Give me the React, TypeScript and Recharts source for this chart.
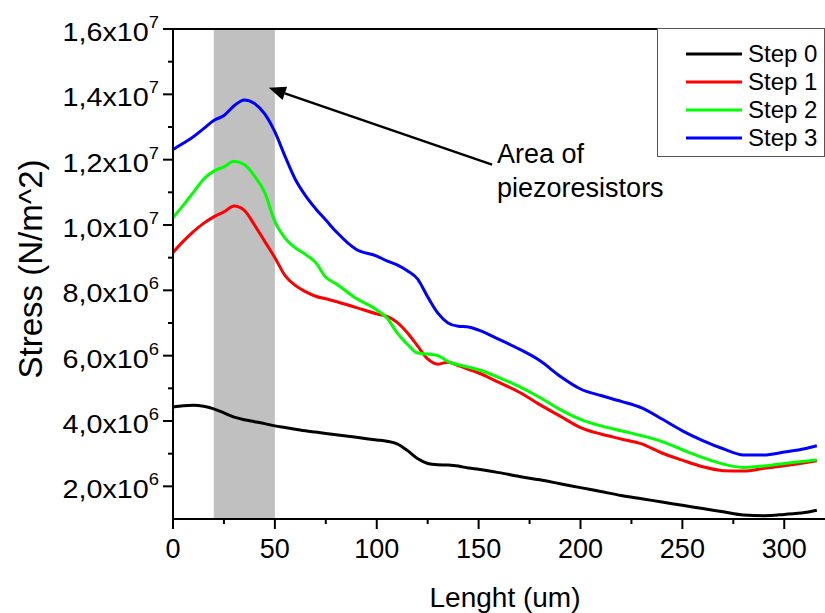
import React from "react";
import { LineChart, Line, XAxis, YAxis, ReferenceArea, ReferenceLine, Legend, Label } from "recharts";

// lengths along the beam, um
const lengthUm = [
  0, 5, 10, 15, 20, 25, 30, 35, 40, 45,
  50, 55, 60, 65, 70, 75, 80,
  90, 100, 105, 110, 115, 120, 125, 130, 135, 140, 145, 150,
  160, 170, 180, 190, 200, 210, 220, 230, 240, 250,
  260, 270, 280, 290, 300, 310, 316,
];

// stress in units of 1e6 N/m^2
const step0 = [
  4.43, 4.47, 4.48, 4.45, 4.37, 4.25, 4.12, 4.04, 3.98, 3.92,
  3.85, 3.8, 3.75, 3.7, 3.66, 3.62, 3.58,
  3.5, 3.42, 3.38, 3.3, 3.1, 2.85, 2.7, 2.66, 2.65, 2.62, 2.56, 2.52,
  2.42, 2.3, 2.2, 2.08, 1.96, 1.84, 1.72, 1.62, 1.52, 1.42,
  1.32, 1.22, 1.12, 1.1, 1.14, 1.2, 1.27,
];
const step1 = [
  9.16, 9.5, 9.8, 10.05, 10.25, 10.4, 10.58, 10.45, 10.0, 9.5,
  9.0, 8.45, 8.15, 7.96, 7.82, 7.74, 7.66,
  7.47, 7.28, 7.2, 7.02, 6.7, 6.3, 5.9, 5.74, 5.8, 5.7, 5.58, 5.47,
  5.18, 4.88, 4.5, 4.15, 3.8, 3.6, 3.45, 3.3, 3.02, 2.8,
  2.6, 2.48, 2.47, 2.55, 2.63, 2.72, 2.78,
];
const step2 = [
  10.23, 10.6, 11.0, 11.4, 11.65, 11.78, 11.95, 11.85, 11.5, 11.0,
  10.1, 9.6, 9.3, 9.1, 8.85, 8.4, 8.2,
  7.75, 7.4, 7.15, 6.7, 6.35, 6.08, 6.05, 6.0, 5.82, 5.72, 5.65, 5.57,
  5.33, 5.05, 4.72, 4.35, 4.05, 3.85, 3.7, 3.55, 3.37, 3.12,
  2.88, 2.68, 2.58, 2.62, 2.7, 2.77, 2.81,
];
const step3 = [
  12.31, 12.5, 12.7, 12.95, 13.2, 13.35, 13.65, 13.83, 13.72, 13.4,
  12.85, 12.1, 11.4, 10.9, 10.5, 10.15, 9.8,
  9.25, 9.05, 8.9, 8.78, 8.6, 8.35, 7.8, 7.3, 7.0, 6.9, 6.88, 6.78,
  6.5, 6.2, 5.85, 5.37, 4.98, 4.78, 4.6, 4.4, 4.06, 3.7,
  3.4, 3.15, 2.96, 2.96, 3.05, 3.15, 3.24,
];

const seriesNames = ["Step 0", "Step 1", "Step 2", "Step 3"];
const seriesColors = ["#000000", "#ff0000", "#00ff00", "#0000ff"];

const xTicks = [0, 25, 50, 75, 100, 125, 150, 175, 200, 225, 250, 275, 300];
const yTicks = [2, 3, 4, 5, 6, 7, 8, 9, 10, 11, 12, 13, 14, 15, 16];

const areaStart = 20;
const areaEnd = 50;
const arrowTail = { x: 156.6, y: 11.85 };
const arrowTip = { x: 47, y: 14.2 };

const data = lengthUm.map((x, i) => ({
  x,
  s0: step0[i],
  s1: step1[i],
  s2: step2[i],
  s3: step3[i],
}));

const FONT = "'Liberation Sans', Arial, sans-serif";

function yLabelParts(v: number) {
  const raw = v * 1e6;
  const exp = Math.floor(Math.log10(raw) + 1e-9);
  const mant = (raw / Math.pow(10, exp)).toFixed(1).replace(".", ",");
  return { mant, exp };
}

function YTick(props: any) {
  const { x, y, payload } = props;
  const v = payload.value;
  const major = Math.round(v) % 2 === 0;
  const { mant, exp } = yLabelParts(v);
  return (
    <g>
      <line x1={x} x2={x - (major ? 10 : 5)} y1={y} y2={y} stroke="#000" strokeWidth={2} />
      {major && (
        <text
          transform={`translate(${x - 14},${y + 12}) scale(1.15,1)`}
          textAnchor="end"
          fontFamily={FONT}
          fontSize={25}
          fill="#000"
        >
          {mant}x10
          <tspan dy={-13} fontSize={16}>{exp}</tspan>
        </text>
      )}
    </g>
  );
}

function XTick(props: any) {
  const { x, y, payload } = props;
  const v = payload.value;
  const major = v % 50 === 0;
  return (
    <g>
      <line x1={x} x2={x} y1={y} y2={y + (major ? 10 : 5)} stroke="#000" strokeWidth={2} />
      {major && (
        <text x={x} y={y + 39} textAnchor="middle" fontFamily={FONT} fontSize={27} fill="#000">
          {v}
        </text>
      )}
    </g>
  );
}

function ArrowShape(props: any) {
  const { x1, y1, x2, y2 } = props;
  const ang = Math.atan2(y2 - y1, x2 - x1);
  const c = Math.cos(ang);
  const s = Math.sin(ang);
  const L = 17;
  const W = 7;
  const bx = x2 - L * c;
  const by = y2 - L * s;
  return (
    <g>
      <line x1={x1} y1={y1} x2={bx} y2={by} stroke="#000" strokeWidth={2.5} />
      <polygon
        points={`${x2},${y2} ${bx - W * s},${by + W * c} ${bx + W * s},${by - W * c}`}
        fill="#000"
      />
      <text x={x1 + 5} y={y1 - 2} fontFamily={FONT} fontSize={27} fill="#000">
        Area of
      </text>
      <text x={x1 + 5} y={y1 + 32} fontFamily={FONT} fontSize={27} fill="#000">
        piezoresistors
      </text>
    </g>
  );
}

function LegendBox(props: any) {
  const { payload } = props;
  return (
    <div
      style={{
        width: 168,
        height: 129,
        boxSizing: "border-box",
        border: "1px solid #555",
        background: "#fff",
        paddingTop: 11,
        fontFamily: FONT,
        fontSize: 24,
        color: "#000",
      }}
    >
      {(payload || []).map((p: any) => (
        <div key={p.value} style={{ display: "flex", alignItems: "center", height: 28 }}>
          <svg width={90} height={28} style={{ flex: "none" }}>
            <line x1={28} x2={84} y1={14} y2={14} stroke={p.color} strokeWidth={3} />
          </svg>
          <span style={{ lineHeight: "28px" }}>{p.value}</span>
        </div>
      ))}
    </div>
  );
}

export default function App() {
  return (
    <div style={{ position: "absolute", left: 0, top: 0, background: "#fff" }}>
      <LineChart width={825} height={613} data={data} margin={{ top: 29, right: 0, left: 0, bottom: 0 }}>
        <ReferenceArea x1={areaStart} x2={areaEnd} fill="#c0c0c0" fillOpacity={1} stroke="none" />
        <XAxis
          dataKey="x"
          type="number"
          domain={[0, 320]}
          ticks={xTicks}
          interval={0}
          height={94}
          tickSize={0}
          tickMargin={0}
          tickLine={false}
          tick={<XTick />}
          axisLine={{ stroke: "#000", strokeWidth: 2 }}
        >
          <Label
            content={(p: any) => {
              const vb = p.viewBox;
              return (
                <text
                  x={vb.x + vb.width / 2 + 6}
                  y={vb.y + 88}
                  textAnchor="middle"
                  fontFamily={FONT}
                  fontSize={28}
                  fill="#000"
                >
                  Lenght (um)
                </text>
              );
            }}
          />
        </XAxis>
        <YAxis
          type="number"
          domain={[1, 16]}
          ticks={yTicks}
          interval={0}
          width={173}
          tickSize={0}
          tickMargin={0}
          tickLine={false}
          tick={<YTick />}
          axisLine={{ stroke: "#000", strokeWidth: 2 }}
          allowDataOverflow
        >
          <Label
            content={(p: any) => {
              const vb = p.viewBox;
              return (
                <text
                  transform={`translate(${vb.x + 42},${vb.y + vb.height / 2 - 5}) rotate(-90)`}
                  textAnchor="middle"
                  fontFamily={FONT}
                  fontSize={33}
                  fill="#000"
                >
                  Stress (N/m^2)
                </text>
              );
            }}
          />
        </YAxis>
        <ReferenceLine y={16} stroke="#000" strokeWidth={2} />
        <ReferenceLine
          segment={[arrowTail, arrowTip]}
          shape={ArrowShape}
          ifOverflow="visible"
        />
        {["s0", "s1", "s2", "s3"].map((k, i) => (
          <Line
            key={k}
            dataKey={k}
            name={seriesNames[i]}
            stroke={seriesColors[i]}
            strokeWidth={3}
            type="monotone"
            dot={false}
            isAnimationActive={false}
          />
        ))}
        <Legend
          layout="vertical"
          align="center"
          verticalAlign="middle"
          content={<LegendBox />}
          wrapperStyle={{ left: 657, top: 28, width: 168, height: 129 }}
        />
      </LineChart>
    </div>
  );
}
